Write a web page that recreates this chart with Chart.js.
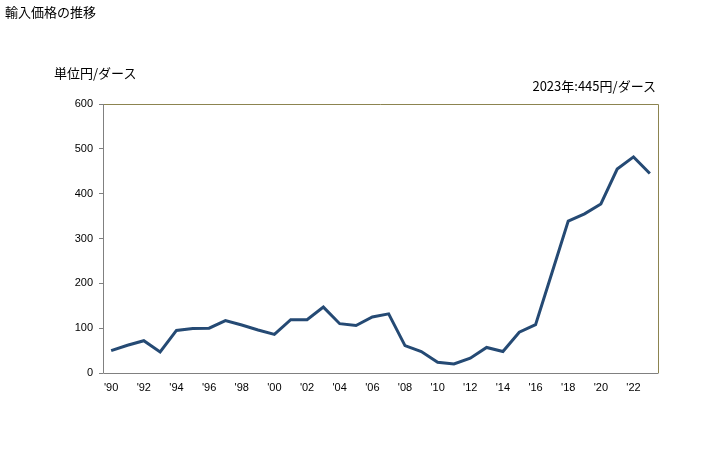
<!DOCTYPE html>
<html><head><meta charset="utf-8">
<script src="https://cdn.jsdelivr.net/npm/chart.js@4"></script>
<style>
html,body{margin:0;padding:0;background:#fff;}
#wrap{position:relative;width:728px;height:450px;}
canvas{position:absolute;left:0;top:0;}
.t{position:absolute;font-family:"Noto Sans CJK JP",sans-serif;font-size:13px;color:#000;white-space:nowrap;line-height:1;}
</style></head>
<body>
<div id="wrap">
<canvas id="c" width="728" height="450"></canvas>
<div class="t" style="left:5px;top:5px;">輸入価格の推移</div>
<div class="t" style="left:54px;top:66px;">単位円/ダース</div>
<div class="t" style="right:72px;top:79px;">2023年:445円/ダース</div>
</div>
<script>
const categories = ["'90","'91","'92","'93","'94","'95","'96","'97","'98","'99","'00","'01","'02","'03","'04","'05","'06","'07","'08","'09","'10","'11","'12","'13","'14","'15","'16","'17","'18","'19","'20","'21","'22","'23"];
const prices = [50,62,72,47,95,99,100,117,107,96,86,119,119,147,110,106,125,132,61,48,24,20,33,57,48,91,108,223,339,355,377,455,482,445];
const yTicks = [0,100,200,300,400,500,600];

const framePlugin = {
  id:'frame',
  afterDraw(chart){
    const a = chart.chartArea, ctx = chart.ctx;
    ctx.save();
    ctx.lineWidth = 1;
    ctx.strokeStyle = '#8c8450';
    ctx.beginPath();
    ctx.moveTo(a.left, a.top+0.5); ctx.lineTo(a.right+0.5, a.top+0.5); ctx.lineTo(a.right+0.5, a.bottom);
    ctx.stroke();
    ctx.strokeStyle = '#808080';
    ctx.beginPath();
    ctx.moveTo(a.left+0.5, a.top); ctx.lineTo(a.left+0.5, a.bottom+0.5); ctx.lineTo(a.right+0.5, a.bottom+0.5);
    ctx.stroke();
    ctx.restore();
  }
};

new Chart(document.getElementById('c'), {
  type:'line',
  data:{labels:categories, datasets:[{data:prices, borderColor:'#254a74', borderWidth:3, pointRadius:0, tension:0, fill:false}]},
  options:{
    responsive:false, animation:false,
    layout:{padding:{left:0,top:104,right:70,bottom:47}},
    plugins:{legend:{display:false}, tooltip:{enabled:false}},
    scales:{
      x:{
        offset:true,
        grid:{display:false, drawTicks:false},
        border:{display:false},
        ticks:{autoSkip:false, maxRotation:0, padding:8, color:'#000', font:{family:'"Liberation Sans", Arial, sans-serif', size:11},
          callback:(v,i)=> i%2===0 ? categories[i] : ''},
        afterFit(s){ s.height = 30; }
      },
      y:{
        min:0, max:600,
        afterBuildTicks(s){ s.ticks = yTicks.map(v=>({value:v})); },
        grid:{drawOnChartArea:false, drawTicks:true, tickLength:4, color:'#808080'},
        border:{display:false},
        ticks:{padding:6, color:'#000', font:{family:'"Liberation Sans", Arial, sans-serif', size:11}},
        afterFit(s){ s.width = 103; }
      }
    }
  },
  plugins:[framePlugin]
});
</script>
</body></html>
